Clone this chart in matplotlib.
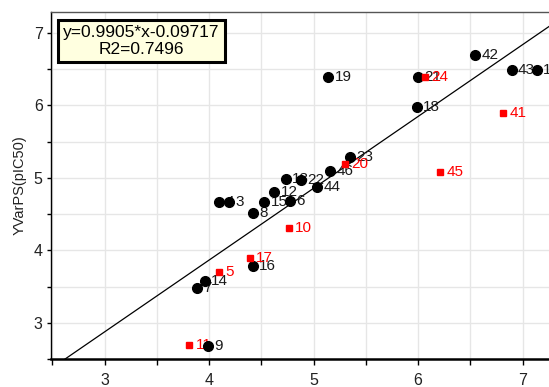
import numpy as np
import matplotlib
matplotlib.use("Agg")
from matplotlib import pyplot as plt
from matplotlib.ticker import MultipleLocator, FuncFormatter

# training set (black circles)
train_ids = ["1", "3", "4", "6", "7", "8", "9", "12", "13", "14", "15", "16",
             "18", "19", "21", "22", "23", "42", "43", "44", "46"]
train_x = [7.135, 4.193, 4.098, 4.774, 3.881, 4.423, 3.987, 4.624, 4.733, 3.961, 4.528, 4.417,
           5.987, 5.141, 5.996, 4.877, 5.348, 6.545, 6.896, 5.037, 5.157]
train_y = [6.487, 4.670, 4.670, 4.680, 3.484, 4.508, 2.680, 4.797, 4.977, 3.581, 4.670, 3.783,
           5.981, 6.394, 6.394, 4.970, 5.291, 6.694, 6.487, 4.873, 5.091]

# test set (red squares)
test_ids = ["5", "10", "11", "17", "20", "24", "41", "45"]
test_x = [4.095, 4.765, 3.811, 4.391, 5.300, 6.066, 6.815, 6.209]
test_y = [3.697, 4.303, 2.690, 3.890, 5.190, 6.397, 5.890, 5.084]

slope = 0.9905
intercept = -0.09717
r2 = 0.7496

plt.rcParams['font.family'] = ['Liberation Sans', 'DejaVu Sans']

fig = plt.figure(figsize=(5.49, 3.87), dpi=100)
ax = fig.add_axes([51 / 549, 1 - 359 / 387, 1 - 51 / 549, (359 - 12) / 387])

ax.set_xlim(2.487, 7.253)
ax.set_ylim(2.5, 7.287)

ax.xaxis.set_major_locator(MultipleLocator(0.5))
ax.yaxis.set_major_locator(MultipleLocator(0.5))
fmt = FuncFormatter(lambda v, p: "%d" % round(v) if abs(v - round(v)) < 1e-6 else "")
ax.xaxis.set_major_formatter(fmt)
ax.yaxis.set_major_formatter(fmt)
ax.grid(True, color="#e6e6e6", linewidth=1.0, zorder=0)
ax.set_axisbelow(True)

ax.tick_params(axis="x", length=4, width=1, pad=6, labelsize=11.5, labelcolor="#222222")
ax.tick_params(axis="y", length=3, width=1, pad=3, labelsize=11.5, labelcolor="#222222")

ax.spines["right"].set_visible(False)
ax.spines["top"].set_color("#555555")
ax.spines["top"].set_linewidth(1.0)
ax.spines["left"].set_linewidth(1.0)
ax.spines["bottom"].set_linewidth(1.8)

# regression line
xs = np.array([2.4, 7.4])
ax.plot(xs, slope * xs + intercept, color="black", linewidth=0.9, zorder=2)

ax.plot(train_x, train_y, "o", color="black", markersize=7, zorder=5, clip_on=False)
ax.plot(test_x, test_y, "s", color="#ff0000", markersize=4.8, zorder=6, clip_on=False)

for t, x, y in zip(train_ids, train_x, train_y):
    ax.annotate(t, (x, y), xytext=(4.5, 0), textcoords="offset points",
                va="center", ha="left", fontsize=11, color="#1a1a1a", zorder=3)
for t, x, y in zip(test_ids, test_x, test_y):
    ax.annotate(t, (x, y), xytext=(4.5, 0), textcoords="offset points",
                va="center", ha="left", fontsize=11, color="#ff0000", zorder=4)

ax.set_ylabel("YVarPS(pIC50)", fontsize=10.5, color="#222222", labelpad=5)

fig.text(141.5 / 549, 1 - 41 / 387, "y=%.4f*x%.5f\nR2=%.4f" % (slope, intercept, r2),
         ha="center", va="center", multialignment="center", fontsize=12.5,
         linespacing=1.15,
         bbox=dict(boxstyle="square,pad=0.3", facecolor="#ffffe0", edgecolor="black",
                   linewidth=2.2))

fig.savefig("out.png", dpi=100)
